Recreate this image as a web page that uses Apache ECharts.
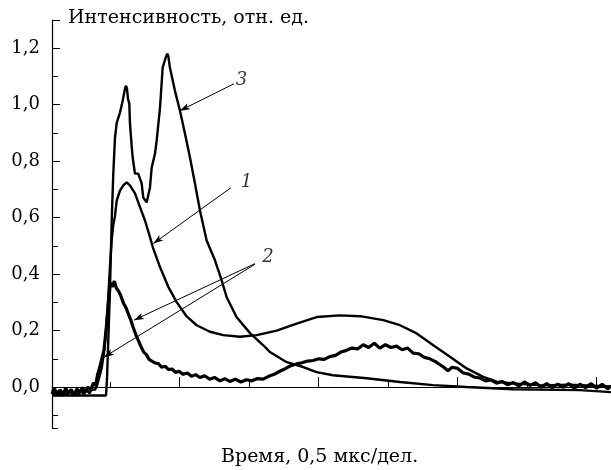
<!DOCTYPE html>
<html>
<head>
<meta charset="utf-8">
<title>Интенсивность</title>
<script src="https://cdn.jsdelivr.net/npm/echarts@6/dist/echarts.min.js"></script>
<style>
  html, body { margin: 0; padding: 0; background: #fff; }
  #chart { width: 611px; height: 470px; }
</style>
</head>
<body>
<div id="chart"></div>
<script>
// x: time in divisions (0.5 us per division), y: intensity, rel. units
const curve1 = [
  [0.163,-0.01],[0.22,-0.03],[0.26,-0.012],[0.30,-0.032],[0.34,-0.015],[0.38,-0.03],[0.42,-0.012],
  [0.46,-0.028],[0.50,-0.016],[0.54,-0.03],[0.58,-0.012],[0.62,-0.026],[0.66,-0.01],[0.70,-0.022],
  [0.74,-0.008],[0.78,-0.01],[0.81,0.005],[0.85,0.04],[0.88,0.07],[0.91,0.12],[0.94,0.2],[0.97,0.31],
  [1.0,0.44],[1.022,0.52],[1.045,0.575],[1.069,0.605],[1.094,0.66],[1.141,0.696],[1.188,0.714],
  [1.237,0.725],[1.285,0.714],[1.357,0.686],[1.429,0.637],[1.501,0.59],[1.573,0.531],[1.62,0.49],
  [1.717,0.425],[1.836,0.355],[1.957,0.301],[2.101,0.25],[2.245,0.219],[2.436,0.196],[2.627,0.184],
  [2.868,0.178],[3.108,0.184],[3.396,0.2],[3.683,0.225],[3.971,0.248],[4.306,0.254],[4.594,0.251],
  [4.93,0.237],[5.17,0.219],[5.41,0.19],[5.649,0.148],[5.889,0.107],[6.129,0.066],[6.368,0.036],
  [6.561,0.019],[6.8,0.013],[7.2,0.006],[7.6,0.008],[8.206,0.002]
];

const curve2 = [
  [0.163,-0.025],[0.20,-0.005],[0.24,-0.03],[0.28,-0.01],[0.32,-0.028],[0.36,-0.004],[0.40,-0.022],
  [0.44,-0.008],[0.48,-0.03],[0.52,-0.006],[0.56,-0.02],[0.60,-0.002],[0.64,-0.018],[0.68,0.0],
  [0.72,-0.01],[0.76,0.015],[0.79,0.005],[0.82,0.045],[0.85,0.07],[0.88,0.1],[0.91,0.13],[0.94,0.2],
  [0.97,0.28],[1.0,0.37],[1.03,0.355],[1.06,0.375],[1.09,0.35],[1.12,0.34],[1.15,0.325],[1.19,0.298],
  [1.23,0.28],[1.26,0.26],[1.30,0.235],[1.33,0.212],[1.37,0.185],[1.40,0.168],[1.44,0.145],[1.48,0.125],
  [1.52,0.115],[1.56,0.098],[1.60,0.092],[1.65,0.085],[1.70,0.082],[1.74,0.07],[1.79,0.074],[1.84,0.062],
  [1.89,0.064],[1.94,0.052],[1.99,0.056],[2.05,0.045],[2.11,0.05],[2.17,0.038],[2.23,0.044],[2.29,0.034],
  [2.36,0.04],[2.43,0.028],[2.50,0.034],[2.58,0.022],[2.65,0.03],[2.72,0.02],[2.80,0.028],[2.88,0.018],
  [2.96,0.026],[3.04,0.022],[3.12,0.03],[3.20,0.028],[3.28,0.038],[3.36,0.045],[3.44,0.056],[3.52,0.065],
  [3.60,0.076],[3.68,0.082],[3.76,0.086],[3.84,0.092],[3.92,0.094],[4.00,0.1],[4.08,0.098],[4.16,0.108],
  [4.24,0.112],[4.32,0.124],[4.40,0.13],[4.48,0.138],[4.56,0.135],[4.64,0.15],[4.72,0.14],[4.80,0.155],
  [4.88,0.138],[4.96,0.15],[5.04,0.14],[5.12,0.145],[5.20,0.132],[5.28,0.138],[5.36,0.12],[5.44,0.118],
  [5.52,0.105],[5.60,0.1],[5.68,0.09],[5.74,0.08],[5.80,0.07],[5.86,0.058],[5.92,0.07],[6.00,0.066],
  [6.08,0.05],[6.16,0.046],[6.24,0.035],[6.32,0.032],[6.40,0.022],[6.48,0.025],[6.56,0.014],[6.64,0.02],
  [6.72,0.008],[6.80,0.016],[6.88,0.004],[6.96,0.018],[7.04,0.006],[7.12,0.015],[7.20,0.0],[7.28,0.012],
  [7.36,-0.002],[7.44,0.01],[7.52,0.0],[7.60,0.012],[7.68,-0.004],[7.76,0.01],[7.84,-0.002],[7.92,0.012],
  [8.00,-0.004],[8.08,0.01],[8.16,-0.006],[8.206,0.004]
];

const curve3 = [
  [0.163,-0.03],[0.94,-0.03],[0.954,0.025],[0.968,0.131],[0.997,0.343],[1.022,0.59],[1.045,0.756],
  [1.069,0.883],[1.094,0.936],[1.117,0.943],[1.141,0.972],[1.18,1.014],[1.213,1.057],[1.227,1.067],
  [1.242,1.057],[1.256,1.021],[1.275,1.004],[1.285,0.933],[1.309,0.855],[1.324,0.813],[1.357,0.756],
  [1.381,0.749],[1.404,0.756],[1.429,0.756],[1.453,0.721],[1.476,0.671],[1.525,0.654],[1.548,0.661],
  [1.573,0.707],[1.597,0.777],[1.645,0.827],[1.669,0.873],[1.717,0.989],[1.755,1.131],[1.803,1.17],
  [1.822,1.181],[1.836,1.173],[1.86,1.131],[1.932,1.049],[2.004,0.979],[2.076,0.898],[2.148,0.813],
  [2.22,0.721],[2.292,0.625],[2.388,0.519],[2.508,0.449],[2.604,0.378],[2.676,0.318],[2.82,0.247],
  [3.012,0.191],[3.203,0.148],[3.299,0.124],[3.54,0.088],[3.778,0.071],[3.971,0.053],[4.206,0.042],
  [4.691,0.031],[5.17,0.018],[5.645,0.007],[6.129,0.0],[6.796,-0.008],[7.76,-0.011],[8.206,-0.018]
];

const yLabelValues = [0, 0.2, 0.4, 0.6, 0.8, 1.0, 1.2];
const xRange = [0.163, 8.206];
const yRange = [-0.145, 1.3];

// callout arrows: from label to curve
const arrows = [
  { from: [2.781, 1.074], to: [2.004, 0.979] },
  { from: [2.738, 0.706], to: [1.62, 0.508] },
  { from: [3.083, 0.437], to: [1.342, 0.237] },
  { from: [3.083, 0.435], to: [0.911, 0.106] }
];
const curveLabels = [
  { text: '3', at: [2.89, 1.085] },
  { text: '1', at: [2.96, 0.724] },
  { text: '2', at: [3.27, 0.459] }
];

const FONT = 'DejaVu Serif';
const chart = echarts.init(document.getElementById('chart'));

const lineSeries = (data, width) => ({
  type: 'line',
  data: data,
  showSymbol: false,
  symbol: 'none',
  lineStyle: { color: '#000', width: width },
  silent: true,
  animation: false
});

const fmtY = v => {
  const hit = yLabelValues.find(t => Math.abs(t - v) < 1e-6);
  return hit === undefined ? '' : hit.toFixed(1).replace('.', ',');
};

const s3 = lineSeries(curve3, 2.4);
s3.markLine = {
  silent: true,
  animation: false,
  symbol: ['none', 'arrow'],
  symbolSize: [5, 10],
  label: { show: false },
  lineStyle: { color: '#000', width: 1, type: 'solid' },
  data: arrows.map(a => [{ coord: a.from }, { coord: a.to }])
};

const option = {
  animation: false,
  title: [
    { text: 'Интенсивность, отн. ед.', left: 68, top: 9, padding: 0,
      textStyle: { fontFamily: FONT, fontSize: 19, fontWeight: 'normal', color: '#000' } },
    { text: 'Время, 0,5 мкс/дел.', left: 221, top: 448, padding: 0,
      textStyle: { fontFamily: FONT, fontSize: 19, fontWeight: 'normal', color: '#000' } }
  ],
  grid: { left: 52, right: 0, top: 20, bottom: 42, containLabel: false },
  xAxis: [
    {
      type: 'value', min: xRange[0], max: xRange[1], minInterval: 1, maxInterval: 1,
      axisLine: { show: true, lineStyle: { color: '#000', width: 1.2 } },
      axisTick: { show: true, inside: true, length: 5, lineStyle: { color: '#000' } },
      axisLabel: { show: false }, splitLine: { show: false }
    },
    {
      type: 'value', position: 'bottom', min: xRange[0], max: xRange[1], minInterval: 2, maxInterval: 2,
      axisLine: { show: false },
      axisTick: { show: true, inside: true, length: 10, lineStyle: { color: '#000' } },
      axisLabel: { show: false }, splitLine: { show: false }
    }
  ],
  yAxis: [
    {
      type: 'value', position: 'left', min: yRange[0], max: yRange[1], minInterval: 0.2, maxInterval: 0.2,
      axisLine: { show: true, lineStyle: { color: '#000', width: 1.2 } },
      axisTick: { show: true, inside: true, length: 8, lineStyle: { color: '#000' } },
      axisLabel: { formatter: fmtY, margin: 12, fontFamily: FONT, fontSize: 18, color: '#000',
                   showMinLabel: false },
      splitLine: { show: false }
    },
    {
      type: 'value', position: 'left', min: yRange[0], max: yRange[1], minInterval: 0.1, maxInterval: 0.1,
      axisLine: { show: false },
      axisTick: { show: true, inside: true, length: 6, lineStyle: { color: '#000' } },
      axisLabel: { show: false }, splitLine: { show: false }
    }
  ],
  series: [
    lineSeries(curve1, 2.4),
    lineSeries(curve2, 3.2),
    s3,
    {
      type: 'scatter',
      symbolSize: 1,
      itemStyle: { color: 'rgba(0,0,0,0)' },
      silent: true,
      animation: false,
      data: curveLabels.map(l => ({
        value: l.at,
        label: {
          show: true, position: 'inside', formatter: l.text,
          fontFamily: FONT, fontStyle: 'italic', fontSize: 18, color: '#000'
        }
      }))
    }
  ]
};

chart.setOption(option);
window.addEventListener('resize', () => chart.resize());
</script>
</body>
</html>
